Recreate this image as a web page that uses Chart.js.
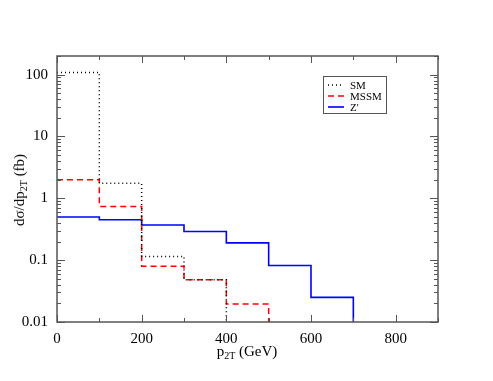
<!DOCTYPE html>
<html>
<head>
<meta charset="utf-8">
<script src="https://cdn.jsdelivr.net/npm/chart.js@4.4.1/dist/chart.umd.min.js"></script>
<style>
  body { margin: 0; background: #fff; }
  #wrap { position: relative; width: 493px; height: 381px; }
  canvas { position: absolute; left: 0; top: 0; }
  .atitle { position: absolute; font-family: "Liberation Serif", serif; font-size: 15px; color: #000; white-space: nowrap; }
  .atitle sub { font-size: 10px; vertical-align: -3px; }
  #xtitle { left: 0; width: 493px; text-align: center; top: 343px; }
  #ytitle { left: 20px; top: 190px; transform: translate(-50%, -50%) rotate(-90deg); }
</style>
</head>
<body>
<div id="wrap">
  <canvas id="chart" width="493" height="381"></canvas>
  <div class="atitle" id="xtitle"><span style="margin-left:1px">p<sub>2T</sub> (GeV)</span></div>
  <div class="atitle" id="ytitle">dσ/dp<sub>2T</sub> (fb)</div>
</div>
<script>
// bin edges in p2T (GeV)
const binEdges = [0, 100, 200, 300, 400, 500, 600, 700];
// histogram contents (fb), one value per bin
const smValues = [108, 1.75, 0.115, 0.048];
const mssmValues = [2.0, 0.74, 0.08, 0.048, 0.0195];
const zpValues = [0.5, 0.45, 0.37, 0.29, 0.19, 0.082, 0.025];
const seriesNames = ['SM', 'MSSM', "Z'"];

const xTicks = [0, 200, 400, 600, 800];
const yTicks = [0.01, 0.1, 1, 10, 100];

// one point per bin at its left edge ('before' = horizontal then vertical),
// the drop after the last bin goes below the plot
function histPoints(values) {
  const pts = values.map((v, i) => ({ x: binEdges[i], y: v }));
  pts.push({ x: binEdges[values.length], y: 0.001 });
  return pts;
}

const frameColor = '#555';

const framePlugin = {
  id: 'frame',
  afterDraw(chart) {
    const ctx = chart.ctx;
    const a = chart.chartArea;
    const xs = chart.scales.x, ys = chart.scales.y;
    ctx.save();
    ctx.strokeStyle = frameColor;
    ctx.lineWidth = 1.5;
    ctx.strokeRect(a.left, a.top, a.right - a.left, a.bottom - a.top);
    ctx.lineWidth = 1;
    ctx.beginPath();
    // x ticks, bottom and top, pointing in
    for (let v = 0; v <= 900; v += 100) {
      const px = Math.round(xs.getPixelForValue(v)) + 0.5;
      const len = v % 200 === 0 ? 7 : 4;
      ctx.moveTo(px, a.bottom); ctx.lineTo(px, a.bottom - len);
      ctx.moveTo(px, a.top); ctx.lineTo(px, a.top + len);
    }
    // y ticks, left and right
    for (let d = -2; d <= 2; d++) {
      for (let m = 1; m <= 9; m++) {
        const v = m * Math.pow(10, d);
        if (v > ys.max) continue;
        const py = Math.round(ys.getPixelForValue(v)) + 0.5;
        const len = m === 1 ? 8 : 4;
        ctx.moveTo(a.left, py); ctx.lineTo(a.left + len, py);
        ctx.moveTo(a.right, py); ctx.lineTo(a.right - len, py);
      }
    }
    ctx.stroke();

    // legend box
    const lx = 323, ly = 76, lw = 63, lh = 37;
    ctx.strokeStyle = frameColor;
    ctx.lineWidth = 1;
    ctx.strokeRect(lx + 0.5, ly + 0.5, lw, lh);
    ctx.font = '11px "Liberation Serif", serif';
    ctx.textBaseline = 'middle';
    ctx.fillStyle = '#000';
    chart.data.datasets.forEach((ds, i) => {
      const y = ly + 9 + i * 11;
      ctx.strokeStyle = ds.borderColor;
      ctx.lineWidth = ds.borderWidth;
      ctx.setLineDash(ds.borderDash || []);
      ctx.beginPath();
      ctx.moveTo(lx + 5, y); ctx.lineTo(lx + 21, y);
      ctx.stroke();
      ctx.setLineDash([]);
      ctx.fillText(ds.label, lx + 27, y + 1);
    });
    ctx.restore();
  }
};

const ctx = document.getElementById('chart').getContext('2d');
new Chart(ctx, {
  type: 'line',
  data: {
    datasets: [
      {
        label: seriesNames[0],
        data: histPoints(smValues),
        borderColor: '#000',
        borderWidth: 1.5,
        borderDash: [1, 3],
        stepped: 'before',
        pointRadius: 0,
        fill: false
      },
      {
        label: seriesNames[1],
        data: histPoints(mssmValues),
        borderColor: '#ff0000',
        borderWidth: 1.5,
        borderDash: [6, 4],
        stepped: 'before',
        pointRadius: 0,
        fill: false
      },
      {
        label: seriesNames[2],
        data: histPoints(zpValues),
        borderColor: '#0000ff',
        borderWidth: 1.6,
        stepped: 'before',
        pointRadius: 0,
        fill: false
      }
    ]
  },
  options: {
    responsive: false,
    animation: false,
    layout: { padding: { left: 0, top: 56, right: 55, bottom: 0 } },
    plugins: { legend: { display: false }, tooltip: { enabled: false } },
    scales: {
      x: {
        type: 'linear',
        min: 0,
        max: 900,
        grid: { display: false },
        border: { display: false },
        afterBuildTicks: s => { s.ticks = xTicks.map(v => ({ value: v })); },
        afterFit: s => { s.height = 59; },
        ticks: {
          padding: 0,
          color: '#000',
          maxRotation: 0,
          font: { family: '"Liberation Serif", serif', size: 15 }
        }
      },
      y: {
        type: 'logarithmic',
        min: 0.01,
        max: 200,
        grid: { display: false },
        border: { display: false },
        afterBuildTicks: s => { s.ticks = yTicks.map(v => ({ value: v })); },
        afterFit: s => { s.width = 57; },
        ticks: {
          padding: 1,
          color: '#000',
          font: { family: '"Liberation Serif", serif', size: 15 },
          callback: v => String(v)
        }
      }
    }
  },
  plugins: [framePlugin]
});
</script>
</body>
</html>
